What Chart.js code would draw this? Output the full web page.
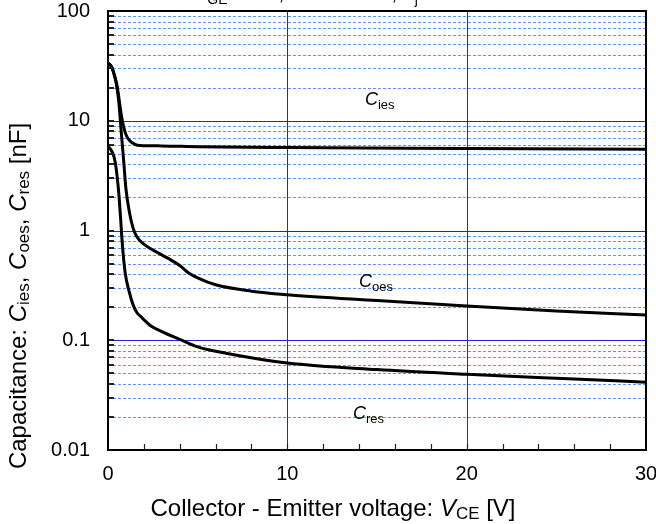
<!DOCTYPE html>
<html>
<head>
<meta charset="utf-8">
<title>Capacitance characteristics</title>
<script src="https://cdn.jsdelivr.net/npm/chart.js@4.4.1/dist/chart.umd.min.js"></script>
<style>
  html, body { margin: 0; padding: 0; background: #fff; }
  canvas { display: block; }
</style>
</head>
<body>
<canvas id="capChart" width="656" height="524"></canvas>
<script>
// Input, output and reverse transfer capacitance vs. collector-emitter voltage
const ciesVce = [0, 0.2, 0.4, 0.5, 0.6, 0.7, 0.8, 1.0, 1.2, 1.5, 1.8, 3, 5, 10, 20, 30];
const ciesNf  = [33.5, 31, 24.5, 21, 16.5, 12.5, 10, 7.5, 6.6, 6.1, 5.95, 5.9, 5.8, 5.7, 5.6, 5.5];

const coesVce = [0, 0.2, 0.4, 0.5, 0.6, 0.7, 0.8, 0.9, 1.0, 1.2, 1.4, 1.6, 2.0, 3.0, 3.5, 4.0, 4.5, 5.0, 6.0, 8.0, 10, 15, 20, 25, 30];
const coesNf  = [33.5, 31, 24.5, 20, 15, 9.5, 6, 3.8, 2.4, 1.45, 1.05, 0.88, 0.75, 0.6, 0.54, 0.48, 0.41, 0.37, 0.32, 0.28, 0.26, 0.23, 0.205, 0.185, 0.17];

const cresVce = [0, 0.2, 0.3, 0.4, 0.5, 0.6, 0.7, 0.8, 0.95, 1.2, 1.4, 1.6, 1.9, 2.4, 3, 4, 5, 6.8, 10, 15, 20, 25, 30];
const cresNf  = [5.9, 5.3, 4.9, 4.2, 3.2, 2.2, 1.3, 0.75, 0.42, 0.27, 0.21, 0.18, 0.16, 0.135, 0.12, 0.102, 0.087, 0.075, 0.062, 0.054, 0.049, 0.045, 0.0415];

const xTickValues = [0, 10, 20, 30];
const xMinorStep = 2;
const yDecades = [0.01, 0.1, 1, 10, 100];
const yTickLabels = ["0.01", "0.1", "1", "10", "100"];

// where each curve name sits, in axis units (left edge, baseline)
const curveNames = [
  { sub: "ies", vce: 14.33, nf: 13.9 },
  { sub: "oes", vce: 14.0, nf: 0.303 },
  { sub: "res", vce: 13.66, nf: 0.0191 }
];

const FONT = "'Liberation Sans', Arial, sans-serif";

function toPoints(xs, ys) {
  return xs.map((x, i) => ({ x: x, y: ys[i] }));
}

// text made of pieces, some italic, some lowered as subscripts
function drawRich(ctx, parts, x, y, size, align, drop) {
  const subSize = Math.round(size * 0.72);
  const subDrop = Math.round(size * (drop || 0.22));
  const fontFor = p => (p.italic ? "italic " : "") + (p.sub ? subSize : size) + "px " + FONT;
  let w = 0;
  parts.forEach(p => { ctx.font = fontFor(p); w += ctx.measureText(p.t).width; });
  let cx = align === "center" ? x - w / 2 : x;
  ctx.textAlign = "left";
  ctx.textBaseline = "alphabetic";
  parts.forEach(p => {
    ctx.font = fontFor(p);
    ctx.fillText(p.t, cx, y + (p.sub ? subDrop : 0));
    cx += ctx.measureText(p.t).width;
  });
}

// keep tick labels from pushing the plot area inwards
function noOverhang(s) {
  s.paddingTop = 0;
  s.paddingBottom = 0;
  s.paddingLeft = 0;
  s.paddingRight = 0;
}

const gridAndFrame = {
  id: "gridAndFrame",
  beforeDatasetsDraw(chart) {
    const { ctx, chartArea: a, scales } = chart;
    const xs = scales.x, ys = scales.y;
    ctx.save();
    ctx.lineWidth = 1;

    // minor decade lines, dashed light blue
    ctx.strokeStyle = "#5b95ff";
    ctx.setLineDash([3, 2]);
    yDecades.slice(0, -1).forEach(d => {
      for (let m = 2; m <= 9; m++) {
        const py = Math.round(ys.getPixelForValue(d * m)) + 0.5;
        ctx.beginPath(); ctx.moveTo(a.left, py); ctx.lineTo(a.right, py); ctx.stroke();
      }
    });
    ctx.setLineDash([]);

    // decade lines and vertical lines, solid blue
    ctx.strokeStyle = "#2222e0";
    yDecades.slice(1, -1).forEach(d => {
      const py = Math.round(ys.getPixelForValue(d)) + 0.5;
      ctx.beginPath(); ctx.moveTo(a.left, py); ctx.lineTo(a.right, py); ctx.stroke();
    });
    xTickValues.slice(1, -1).forEach(v => {
      const px = Math.round(xs.getPixelForValue(v)) + 0.5;
      ctx.beginPath(); ctx.moveTo(px, a.top); ctx.lineTo(px, a.bottom); ctx.stroke();
    });
    ctx.restore();
  },
  afterDatasetsDraw(chart) {
    const { ctx, chartArea: a, scales } = chart;
    const xs = scales.x, ys = scales.y;
    ctx.save();

    // inward tick marks
    ctx.strokeStyle = "#222";
    ctx.lineWidth = 2;
    yDecades.slice(0, -1).forEach(d => {
      for (let m = 1; m <= 9; m++) {
        const py = Math.round(ys.getPixelForValue(d * m));
        ctx.beginPath(); ctx.moveTo(a.left, py); ctx.lineTo(a.left + 6, py); ctx.stroke();
      }
    });
    ctx.lineWidth = 1.2;
    for (let v = xMinorStep; v < 30; v += xMinorStep) {
      const px = Math.round(xs.getPixelForValue(v)) + 0.5;
      ctx.beginPath(); ctx.moveTo(px, a.bottom); ctx.lineTo(px, a.bottom - 6); ctx.stroke();
    }

    // plot frame
    ctx.strokeStyle = "#000";
    ctx.lineWidth = 2;
    ctx.strokeRect(a.left, a.top, a.right - a.left, a.bottom - a.top);

    // curve names
    ctx.fillStyle = "#000";
    curveNames.forEach(n => {
      drawRich(ctx, [{ t: "C", italic: true }, { t: n.sub, sub: true }],
        xs.getPixelForValue(n.vce), ys.getPixelForValue(n.nf), 18, "left");
    });

    // axis titles
    drawRich(ctx, [
      { t: "Collector - Emitter voltage: " },
      { t: "V", italic: true },
      { t: "CE", sub: true },
      { t: " [V]" }
    ], 333, 516, 24, "center", 0.14);

    ctx.translate(26, 296);
    ctx.rotate(-Math.PI / 2);
    drawRich(ctx, [
      { t: "Capacitance: " },
      { t: "C", italic: true }, { t: "ies", sub: true }, { t: ", " },
      { t: "C", italic: true }, { t: "oes", sub: true }, { t: ", " },
      { t: "C", italic: true }, { t: "res", sub: true }, { t: " [nF]" }
    ], 0, 0, 24, "center", 0.14);
    ctx.restore();

    // measuring conditions above the plot
    ctx.save();
    ctx.fillStyle = "#000";
    drawRich(ctx, [
      { t: "V", italic: true }, { t: "GE", sub: true }, { t: " = 0 V, f = 100 kHz, " },
      { t: "T", italic: true }, { t: "j", sub: true }, { t: " = 25 °C" }
    ], 194, 0, 20, "left");
    ctx.restore();
  }
};

const curveStyle = {
  borderColor: "#000",
  borderWidth: 3,
  pointRadius: 0,
  fill: false,
  cubicInterpolationMode: "monotone"
};

new Chart(document.getElementById("capChart").getContext("2d"), {
  type: "line",
  data: {
    datasets: [
      Object.assign({ label: "Cies", data: toPoints(ciesVce, ciesNf) }, curveStyle),
      Object.assign({ label: "Coes", data: toPoints(coesVce, coesNf) }, curveStyle),
      Object.assign({ label: "Cres", data: toPoints(cresVce, cresNf) }, curveStyle)
    ]
  },
  options: {
    responsive: false,
    animation: false,
    events: [],
    layout: { padding: { top: 11, right: 10, left: 0, bottom: 0 } },
    plugins: { legend: { display: false }, tooltip: { enabled: false } },
    scales: {
      x: {
        type: "linear",
        min: 0,
        max: 30,
        afterBuildTicks: s => { s.ticks = xTickValues.map(v => ({ value: v })); },
        afterFit: s => { s.height = 74; noOverhang(s); },
        grid: { display: false, drawTicks: false },
        border: { display: false },
        ticks: { padding: 12, maxRotation: 0, color: "#000", font: { family: FONT, size: 20 } }
      },
      y: {
        type: "logarithmic",
        min: 0.01,
        max: 100,
        afterBuildTicks: s => { s.ticks = yDecades.map(v => ({ value: v })); },
        afterFit: s => { s.width = 108; noOverhang(s); },
        grid: { display: false, drawTicks: false },
        border: { display: false },
        ticks: {
          autoSkip: false,
          padding: 18,
          color: "#000",
          font: { family: FONT, size: 20 },
          callback: (v, i) => yTickLabels[i]
        }
      }
    }
  },
  plugins: [gridAndFrame]
});
</script>
</body>
</html>
